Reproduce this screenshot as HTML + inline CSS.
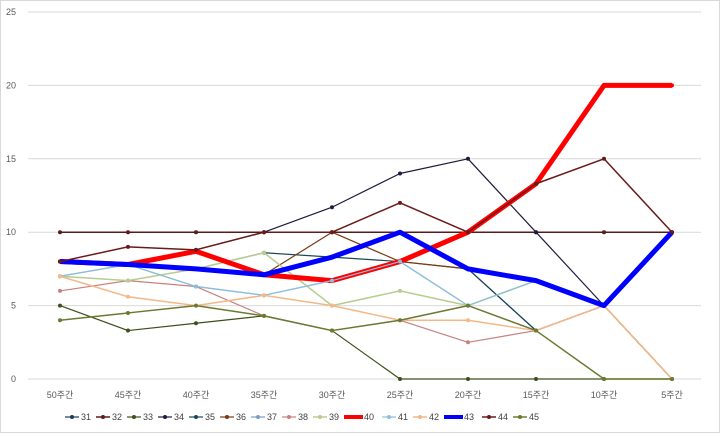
<!DOCTYPE html>
<html><head><meta charset="utf-8"><style>
body{margin:0;background:#fff;font-family:"Liberation Sans","Noto Sans CJK KR",sans-serif}
#wrap{position:relative;width:718px;height:431px;border:1px solid #d9d9d9}
</style></head><body>
<div id="wrap">
<svg id="chart" width="718" height="431"></svg>
</div>
<script>
const categories=["50주간","45주간","40주간","35주간","30주간","25주간","20주간","15주간","10주간","5주간"];
const yTicks=[0,5,10,15,20,25];
const seriesNames=["31","32","33","34","35","36","37","38","39","40","41","42","43","44","45"];
const colors=["#1f3a5a","#5a1a1a","#3d4f1a","#1c1c3c","#17475a","#7a3a10","#7a9cc8","#c88080","#b8cc90","#ff0000","#8cc0dc","#f4b888","#0000ff","#6a1a1a","#6a7a30"];
const widths=[1.2,1.5,1.2,1.2,1.2,1.2,1.2,1.2,1.5,5,1.2,1.5,5,1.5,1.5];
const s31=[8,7.8,7.5,7.1,8.3,10,7.5,3.3,5,0];
const s32=[10,10,10,10,10,10,10,10,10,10];
const s33=[5,3.3,3.8,4.3,3.3,0,0,0,0,0];
const s34=[8,7.8,8.8,10,11.7,14,15,10,5,0];
const s35=[8,7.8,7.5,8.6,8.3,8,7.5,3.3,5,0];
const s36=[8,7.8,7.5,7.1,10,8,7.5,6.7,5,0];
const s37=[7,7.8,6.3,5.7,6.7,8,5,6.7,5,0];
const s38=[6,6.7,6.3,4.3,3.3,4,2.5,3.3,5,0];
const s39=[7,6.7,7.5,8.6,5,6,5,6.7,5,0];
const s40=[8,7.8,8.7,7.1,6.7,8,10,13.3,20,20];
const s41=[7,7.8,6.3,5.7,6.7,8,5,6.7,5,0];
const s42=[7,5.6,5,5.7,5,4,4,3.3,5,0];
const s43=[8,7.8,7.5,7.1,8.3,10,7.5,6.7,5,10];
const s44=[8,9,8.8,10,10,12,10,13.3,15,10];
const s45=[4,4.5,5,4.3,3.3,4,5,3.3,0,0];
const seriesValues=[s31,s32,s33,s34,s35,s36,s37,s38,s39,s40,s41,s42,s43,s44,s45];
const svg=document.getElementById('chart');const NS='http://www.w3.org/2000/svg';
const X0=59,XS=68,Y0=378,YMAX=25,YH=367;
const xPos=i=>X0+i*XS;const yPos=v=>Y0-v/YMAX*YH;
function mk(t,a){const e=document.createElementNS(NS,t);for(const k in a)e.setAttribute(k,a[k]);svg.appendChild(e);return e;}
yTicks.forEach(v=>{
 const g=mk('line',{x1:27,x2:700,y1:yPos(v),y2:yPos(v),stroke:'#d9d9d9','stroke-width':1});
 
 
 const t=mk('text',{x:15,y:yPos(v)+3,'font-size':9,'text-anchor':'end',fill:'#595959'});t.textContent=v;
 
 
});
categories.forEach((c,i)=>{
 const t=mk('text',{x:xPos(i),y:397,'font-size':9,'text-anchor':'middle',fill:'#595959'});t.textContent=c;
 
 
});
seriesValues.forEach((vals,s)=>{
 const p=mk('polyline',{points:vals.map((v,i)=>xPos(i)+','+yPos(v)).join(' '),fill:'none',stroke:colors[s],'stroke-width':widths[s],'stroke-linejoin':'round'});
 
 
 vals.forEach((v,i)=>{const c=mk('circle',{cx:xPos(i),cy:yPos(v),r:2,fill:colors[s]});
  
  });
});
const LX=[66,97,128,159,190,221,252,283,314,345,383,414,445,483,514];
seriesNames.forEach((n,s)=>{
 const x=LX[s]-2;const y=416;
 const l=mk('line',{x1:x,x2:x+(widths[s]>3?19:14),y1:y,y2:y,stroke:colors[s],'stroke-width':Math.min(widths[s],4)});
 
 
 const c=mk('circle',{cx:x+(widths[s]>3?9.5:7),cy:y,r:2,fill:colors[s]});
 
 
 const t=mk('text',{x:x+(widths[s]>3?20:16),y:y+3,'font-size':9,fill:'#404040'});t.textContent=n;
 
 
});
</script>
</body></html>
